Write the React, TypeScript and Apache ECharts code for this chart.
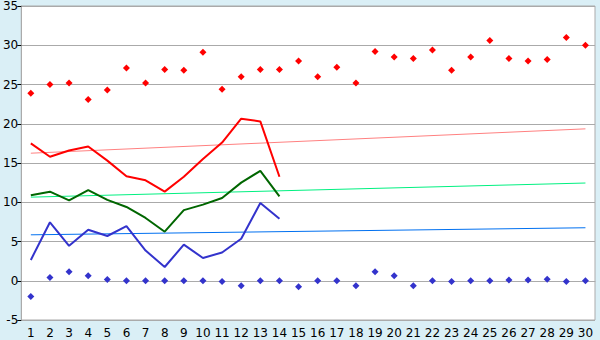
import React, { useEffect, useRef } from "react";
import * as echarts from "echarts";

const days = Array.from({ length: 30 }, (_, i) => String(i + 1));

const maxTemps = [23.9, 25.0, 25.2, 23.1, 24.3, 27.1, 25.2, 26.9, 26.8, 29.1, 24.4, 26.0, 26.9, 26.9, 28.0,
  26.0, 27.2, 25.2, 29.2, 28.5, 28.3, 29.4, 26.8, 28.5, 30.6, 28.3, 28.0, 28.2, 31.0, 30.0];
const minTemps = [-2.0, 0.4, 1.15, 0.65, 0.15, 0, 0, 0, 0, 0, -0.1, -0.65, 0, 0, -0.75,
  0, 0, -0.65, 1.15, 0.65, -0.65, 0, -0.1, 0, 0, 0.1, 0.1, 0.2, -0.1, 0];
const redLine = [17.5, 15.8, 16.6, 17.1, 15.3, 13.3, 12.8, 11.35, 13.25, 15.5, 17.6, 20.65, 20.3, 13.25];
const greenLine = [10.9, 11.35, 10.25, 11.55, 10.3, 9.4, 8.0, 6.25, 9.0, 9.7, 10.55, 12.5, 14.0, 10.75];
const blueLine = [2.65, 7.45, 4.45, 6.5, 5.7, 6.95, 3.85, 1.75, 4.6, 2.9, 3.6, 5.35, 9.9, 7.9];
const redTrend = [16.25, 19.35];
const greenTrend = [10.65, 12.45];
const blueTrend = [5.85, 6.75];

const font = "DejaVu Sans";

export default function App() {
  const ref = useRef<HTMLDivElement>(null);
  useEffect(() => {
    if (!ref.current) return;
    const chart = echarts.init(ref.current, undefined, { renderer: "svg" });
    const trend = (v: number[]) => [[0, v[0]], [days.length - 1, v[1]]];
    chart.setOption({
      animation: false,
      backgroundColor: "#DAEFF6",
      grid: {
        left: 20, right: 5, top: 5, bottom: 20, show: true,
        backgroundColor: "#ffffff", borderColor: "#ABABAB", borderWidth: 1,
      },
      xAxis: {
        type: "category",
        data: days,
        boundaryGap: true,
        axisLine: { lineStyle: { color: "#ABABAB" } },
        axisTick: { alignWithLabel: true, length: 5, lineStyle: { color: "#000" } },
        axisLabel: { color: "#000", fontFamily: font, fontSize: 12, margin: 7, interval: 0 },
        splitLine: { show: false },
      },
      yAxis: {
        type: "value",
        min: -5, max: 35, interval: 5,
        axisLine: { show: true, lineStyle: { color: "#ABABAB" } },
        axisTick: { show: true, length: 4, lineStyle: { color: "#000" } },
        axisLabel: { color: "#000", fontFamily: font, fontSize: 12, margin: 3 },
        splitLine: { lineStyle: { color: "#AAAAAA", width: 1 } },
      },
      series: [
        { type: "line", data: trend(redTrend), symbol: "none", lineStyle: { color: "#FF8080", width: 1 }, z: 1 },
        { type: "line", data: trend(greenTrend), symbol: "none", lineStyle: { color: "#00F080", width: 1 }, z: 1 },
        { type: "line", data: trend(blueTrend), symbol: "none", lineStyle: { color: "#0070F0", width: 1 }, z: 1 },
        { type: "line", data: redLine, symbol: "none", lineStyle: { color: "#FF0000", width: 2 }, z: 3 },
        { type: "line", data: greenLine, symbol: "none", lineStyle: { color: "#006600", width: 2 }, z: 3 },
        { type: "line", data: blueLine, symbol: "none", lineStyle: { color: "#3333CC", width: 2 }, z: 3 },
        { type: "scatter", data: maxTemps, symbol: "diamond", symbolSize: 7, itemStyle: { color: "#FF0000", opacity: 1 }, z: 4 },
        { type: "scatter", data: minTemps, symbol: "diamond", symbolSize: 7, itemStyle: { color: "#3333CC", opacity: 1 }, z: 4 },
      ],
    });
    return () => chart.dispose();
  }, []);
  return <div ref={ref} style={{ position: "fixed", left: 0, top: 0, width: 600, height: 340 }} />;
}
